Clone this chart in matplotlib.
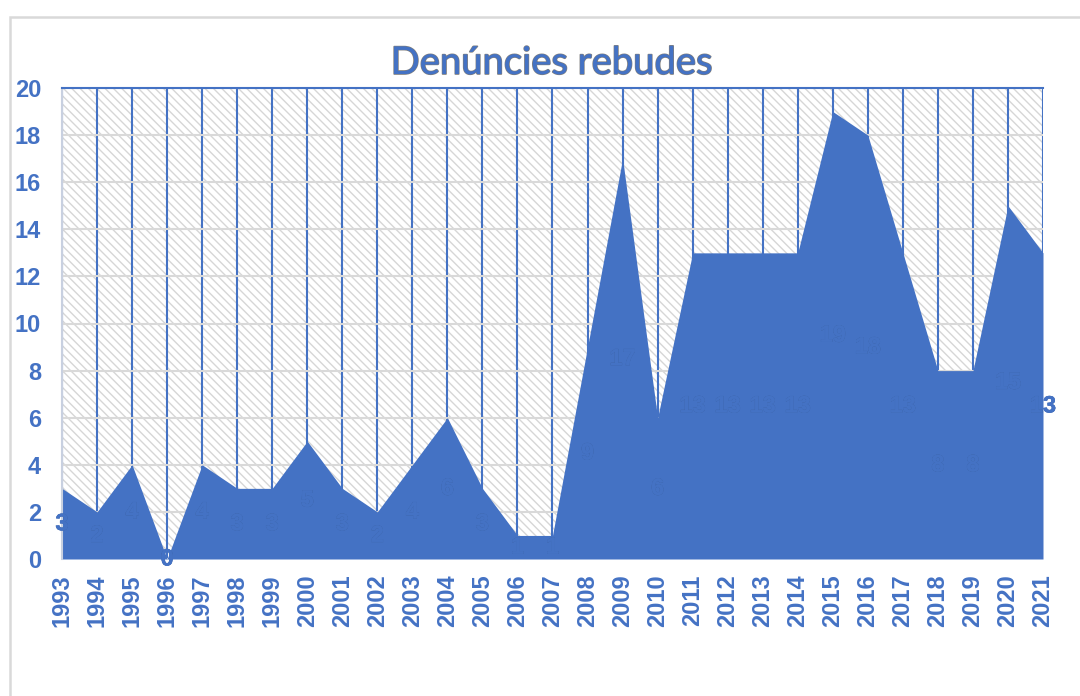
import matplotlib
matplotlib.use("Agg")
import matplotlib.pyplot as plt
import matplotlib.patheffects as pe
from matplotlib.patches import Rectangle

years = list(range(1993, 2022))
values = [3, 2, 4, 0, 4, 3, 3, 5, 3, 2, 4, 6, 3, 1, 1, 9, 17, 6, 13, 13, 13, 13, 19, 18, 13, 8, 8, 15, 13]
title = "Denúncies rebudes"

BLUE = "#4472C4"
plt.rcParams['hatch.color'] = '#d6d6d6'
plt.rcParams['hatch.linewidth'] = 1.0
plt.rcParams['font.family'] = ['Liberation Sans', 'DejaVu Sans']
plt.rcParams['font.weight'] = 'bold'

fig = plt.figure(figsize=(10.8, 6.96), dpi=100)
ax = fig.add_axes([62/1080, 1-559/696, (1043-62)/1080, (559-88)/696])

# chart border
fig.add_artist(Rectangle((10/1080, -0.1), 1.2, 1 - 17/696 + 0.1, transform=fig.transFigure,
                         fill=False, edgecolor='#d9d9d9', linewidth=1.8))

ax.set_facecolor('white')
ax.add_patch(Rectangle((0, 0), 1, 1, transform=ax.transAxes, facecolor='white',
                       edgecolor='#d6d6d6', hatch='\\\\\\\\', linewidth=0, zorder=0.1))

ax.fill_between(years, values, 0, color=BLUE, linewidth=0, zorder=2)

ax.set_xlim(years[0], years[-1])
ax.set_ylim(0, 20)
ax.set_yticks(range(0, 21, 2))
ax.set_xticks(years)
ax.set_xticklabels([str(y) for y in years], rotation=90)

ax.set_axisbelow(True)
ax.yaxis.grid(True, color='#d9d9d9', linewidth=1.5, zorder=0.5)
ax.xaxis.grid(True, color=BLUE, linewidth=1.5, zorder=0.5)

ax.tick_params(axis='both', length=0, labelsize=17, labelcolor=BLUE)
ax.tick_params(axis='y', pad=15)
ax.tick_params(axis='x', pad=11)

for s in ['right', 'bottom']:
    ax.spines[s].set_visible(False)
ax.spines['top'].set_color(BLUE)
ax.spines['top'].set_linewidth(1.5)
ax.spines['left'].set_color('#c8d0e0')
ax.spines['left'].set_linewidth(1.5)

for x, v in zip(years, values):
    ax.text(x, v / 2, str(v), ha='center', va='center', fontsize=17, fontweight='bold',
            color=BLUE, zorder=3, clip_on=False,
            path_effects=[pe.withStroke(linewidth=0.3, foreground='#3a609f'), pe.Normal()])

t = fig.text(552/1080, 1 - 63/696, title, ha='center', va='center', fontsize=27.5,
             family='Lato', fontweight='normal', color=BLUE)
t.set_path_effects([pe.withStroke(linewidth=1.2, foreground='#7f7f7f'), pe.Normal()])

fig.savefig('out.png', dpi=100)
